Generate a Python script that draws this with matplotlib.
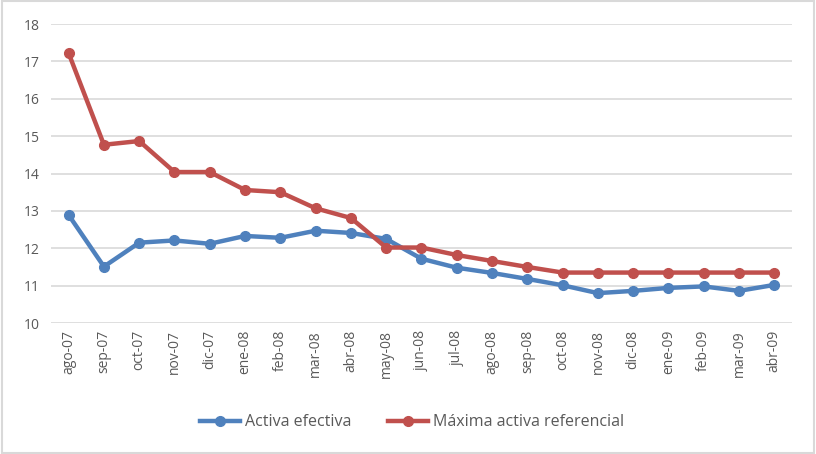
import matplotlib
matplotlib.use("Agg")
import matplotlib.pyplot as plt
from matplotlib.patches import Rectangle

meses = ["ago-07", "sep-07", "oct-07", "nov-07", "dic-07", "ene-08", "feb-08",
         "mar-08", "abr-08", "may-08", "jun-08", "jul-08", "ago-08", "sep-08",
         "oct-08", "nov-08", "dic-08", "ene-09", "feb-09", "mar-09", "abr-09"]
activa_efectiva = [12.89, 11.51, 12.15, 12.21, 12.12, 12.33, 12.28, 12.47, 12.41,
                   12.25, 11.72, 11.48, 11.34, 11.18, 11.01, 10.80, 10.86, 10.94,
                   10.98, 10.86, 11.02]
maxima_activa = [17.22, 14.77, 14.87, 14.04, 14.04, 13.56, 13.50, 13.07, 12.81,
                 12.02, 12.02, 11.82, 11.66, 11.50, 11.35, 11.35, 11.35, 11.35,
                 11.35, 11.35, 11.35]

plt.rcParams['font.family'] = ['Open Sans', 'DejaVu Sans']
gris = '#595959'

fig = plt.figure(figsize=(8.16, 4.54), dpi=100)
ax = fig.add_axes([0.0625, 0.2885, 0.908, 0.6585])

x = list(range(len(meses)))
ax.plot(x, activa_efectiva, color='#4F81BD', lw=3.2, marker='o', ms=7,
        label='Activa efectiva', solid_joinstyle='round')
ax.plot(x, maxima_activa, color='#C0504D', lw=3.2, marker='o', ms=7,
        label='Máxima activa referencial', solid_joinstyle='round')

ax.set_ylim(10, 18)
ax.set_xlim(-0.5, len(meses) - 0.5)
ax.set_yticks(range(10, 19))
ax.set_xticks(x)
ax.set_xticklabels(meses, rotation=90)
ax.tick_params(axis='both', length=0, labelsize=10, colors=gris)
ax.tick_params(axis='y', pad=8)
ax.tick_params(axis='x', pad=5)
ax.grid(axis='y', color='#D9D9D9', lw=1.2)
ax.set_axisbelow(True)
for s in ax.spines.values():
    s.set_visible(False)

leg = fig.legend(loc='center', bbox_to_anchor=(0.505, 0.07), ncol=2,
                 frameon=False, fontsize=11.5, handlelength=2.5,
                 columnspacing=2.3, handletextpad=0.3)
for t in leg.get_texts():
    t.set_color(gris)

fig.patches.append(Rectangle((0.002, 0.003), 0.996, 0.994, transform=fig.transFigure,
                             fill=False, edgecolor='#D9D9D9', lw=1.5))

fig.savefig('out.png', dpi=100)
